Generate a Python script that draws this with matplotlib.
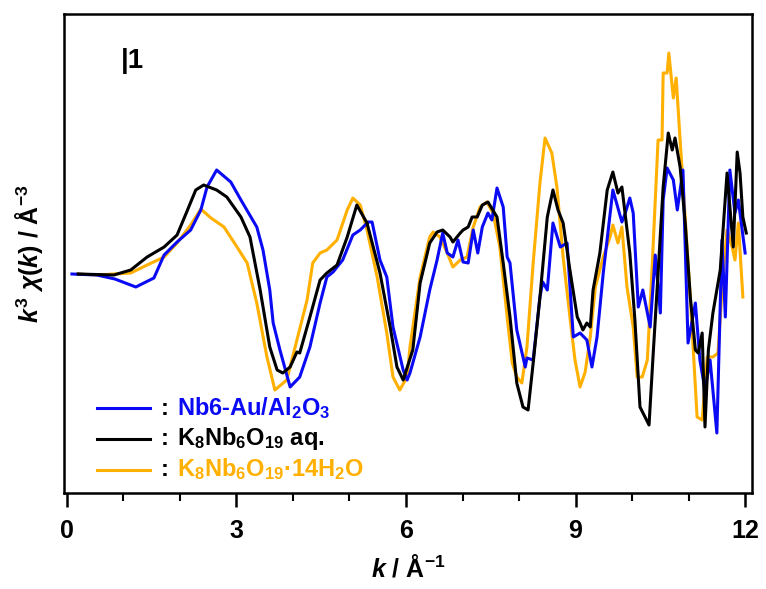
import matplotlib
matplotlib.use("Agg")
import matplotlib.pyplot as plt
from matplotlib.ticker import MultipleLocator
from matplotlib.offsetbox import (AnchoredOffsetbox, HPacker, VPacker,
                                  TextArea, DrawingArea)
from matplotlib.lines import Line2D

plt.rcParams['font.family'] = ['Liberation Sans', 'DejaVu Sans']
plt.rcParams['mathtext.fontset'] = 'custom'
plt.rcParams['mathtext.rm'] = 'Liberation Sans:bold'
plt.rcParams['mathtext.bf'] = 'Liberation Sans:bold'
plt.rcParams['mathtext.it'] = 'Liberation Sans:italic:bold'

# ---------------- data ----------------
k_blue = [0.09, 0.53, 0.85, 1.22, 1.54, 1.72, 1.95, 2.19, 2.37, 2.48, 2.65, 2.90, 3.08,
          3.36, 3.47, 3.59, 3.65, 3.77, 3.95, 4.12, 4.30, 4.48, 4.60, 4.71, 4.88, 5.06,
          5.19, 5.33, 5.40, 5.54, 5.66, 5.77, 5.95, 6.02, 6.07, 6.25, 6.42, 6.55, 6.65,
          6.73, 6.83, 6.92, 7.01, 7.10, 7.19, 7.27, 7.35, 7.45, 7.52, 7.61, 7.72, 7.79,
          7.84, 7.96, 8.11, 8.14, 8.25, 8.37, 8.42, 8.50, 8.60, 8.73, 8.85, 8.96, 9.08,
          9.20, 9.29, 9.38, 9.49, 9.66, 9.82, 9.88, 9.96, 10.02, 10.11, 10.19, 10.32,
          10.41, 10.50, 10.55, 10.62, 10.73, 10.80, 10.90, 10.99, 11.12, 11.20, 11.29,
          11.38, 11.50, 11.59, 11.65, 11.73, 11.82, 11.88, 12.00]
y_blue = [-0.01, -0.02, -0.06, -0.14, -0.05, 0.18, 0.31, 0.43, 0.63, 0.86, 1.03, 0.91, 0.73,
          0.46, 0.23, -0.17, -0.50, -0.77, -1.14, -1.04, -0.74, -0.30, -0.04, 0.01, 0.13, 0.38,
          0.43, 0.51, 0.51, 0.13, -0.04, -0.54, -0.97, -1.07, -1.00, -0.64, -0.17, 0.13, 0.40,
          0.20, 0.16, 0.33, 0.11, 0.10, 0.43, 0.20, 0.46, 0.60, 0.53, 0.85, 0.66, 0.16,
          0.10, -0.57, -0.94, -0.85, -0.87, -0.24, -0.09, -0.17, 0.50, 0.26, 0.30, -0.64, -0.60,
          -0.67, -0.94, -0.64, 0.00, 0.83, 0.51, 0.60, 0.75, 0.60, -0.34, -0.17, -0.54,
          0.18, -0.40, 0.73, 1.05, 0.93, 0.63, 1.03, -0.70, -0.30, -0.87, -1.17,
          -0.87, -1.60, 0.33, -0.44, 1.03, 0.60, 0.73, 0.20]

k_black = [0.20, 0.83, 1.13, 1.42, 1.72, 1.95, 2.12, 2.28, 2.42, 2.65, 2.83, 3.08, 3.24,
           3.42, 3.59, 3.72, 3.82, 3.95, 4.07, 4.12, 4.30, 4.48, 4.60, 4.78, 4.96, 5.13,
           5.31, 5.54, 5.72, 5.84, 5.95, 6.12, 6.25, 6.42, 6.55, 6.65, 6.78, 6.83, 6.96,
           7.01, 7.10, 7.17, 7.26, 7.35, 7.45, 7.61, 7.72, 7.84, 7.96, 8.07, 8.16, 8.25,
           8.37, 8.50, 8.60, 8.69, 8.78, 8.90, 9.03, 9.08, 9.13, 9.20, 9.26, 9.31, 9.43,
           9.56, 9.66, 9.75, 9.82, 9.96, 10.05, 10.14, 10.30, 10.37, 10.46, 10.55, 10.64,
           10.71, 10.76, 10.85, 10.94, 11.03, 11.12, 11.17, 11.24, 11.29, 11.35, 11.43,
           11.56, 11.68, 11.79, 11.86, 11.91, 11.96, 12.02]
y_black = [-0.01, -0.02, 0.03, 0.16, 0.26, 0.38, 0.61, 0.83, 0.88, 0.83, 0.76, 0.56, 0.36,
           -0.17, -0.74, -0.97, -1.00, -0.94, -0.79, -0.80, -0.44, -0.07, 0.00, 0.08, 0.36, 0.68,
           0.50, 0.00, -0.54, -0.94, -1.07, -0.77, -0.10, 0.30, 0.41, 0.43, 0.36, 0.31, 0.40,
           0.43, 0.46, 0.56, 0.56, 0.68, 0.71, 0.56, 0.10, -0.44, -1.10, -1.34, -1.37, -0.90,
           -0.24, 0.56, 0.83, 0.63, 0.50, 0.03, -0.44, -0.50, -0.57, -0.50, -0.54, -0.17, 0.20,
           0.83, 1.01, 0.80, 0.86, 0.20, -0.47, -1.34, -1.52, -0.84, 0.00, 0.86, 1.40,
           1.23, 1.35, 1.06, 0.50, -0.24, -0.77, -0.80, -0.60, -1.54, -0.77, -0.40,
           0.03, 1.00, 0.26, 1.21, 1.00, 0.56, 0.40]

k_orange = [0.20, 0.53, 1.13, 1.42, 1.72, 1.95, 2.19, 2.37, 2.55, 2.78, 3.01, 3.19, 3.36,
            3.54, 3.68, 3.89, 4.07, 4.25, 4.35, 4.48, 4.60, 4.78, 4.96, 5.06, 5.19, 5.31,
            5.49, 5.66, 5.77, 5.89, 6.02, 6.07, 6.25, 6.42, 6.48, 6.60, 6.73, 6.83, 6.96,
            7.08, 7.19, 7.31, 7.43, 7.54, 7.66, 7.79, 7.88, 7.96, 8.05, 8.14, 8.25, 8.37,
            8.46, 8.58, 8.67, 8.78, 8.90, 8.99, 9.08, 9.17, 9.26, 9.35, 9.49, 9.61, 9.66,
            9.75, 9.82, 9.91, 10.02, 10.09, 10.18, 10.27, 10.35, 10.46, 10.53, 10.55, 10.62,
            10.65, 10.73, 10.78, 10.85, 10.90, 11.03, 11.15, 11.24, 11.33, 11.43, 11.52,
            11.61, 11.68, 11.77, 11.82, 11.88, 11.96]
y_orange = [-0.01, -0.02, 0.00, 0.08, 0.16, 0.30, 0.48, 0.64, 0.55, 0.46, 0.26, 0.10, -0.30,
            -0.84, -1.17, -1.07, -0.67, -0.27, 0.10, 0.20, 0.23, 0.33, 0.63, 0.75, 0.68, 0.43,
            -0.04, -0.60, -1.04, -1.17, -1.04, -0.74, -0.04, 0.36, 0.41, 0.36, 0.20, 0.06, 0.13,
            0.16, 0.46, 0.66, 0.71, 0.60, 0.26, -0.44, -0.90, -1.04, -1.10, -0.74, 0.10, 0.90,
            1.35, 1.20, 0.86, 0.16, -0.44, -0.87, -1.14, -0.99, -0.64, -0.14, 0.16, 0.36, 0.48,
            0.30, 0.46, -0.14, -0.54, -1.04, -1.04, -0.87, 0.00, 1.33, 1.33, 2.00, 2.00,
            2.20, 1.75, 1.95, 1.33, 0.90, -0.24, -1.44, -1.47, -0.84, -0.84, -0.80,
            0.00, 0.43, 0.26, 0.13, 0.50, -0.24]

labels = ["Nb6-Au/Al$_{2}$O$_{3}$",
          "K$_{8}$Nb$_{6}$O$_{19}$ aq.",
          "K$_{8}$Nb$_{6}$O$_{19}$$\u00b7$14H$_{2}$O"]
colors = ["#0a0af5", "#000000", "#ffb000"]
xticks = [0, 3, 6, 9, 12]
panel_tag = "|1"

# ---------------- figure ----------------
fig = plt.figure(figsize=(7.66, 5.89), dpi=100)
ax = fig.add_axes([0.0836, 0.163, 0.898, 0.8132])

lw = 2.2
ax.plot(k_orange, y_orange, color=colors[2], lw=lw, zorder=2)
ax.plot(k_blue, y_blue, color=colors[0], lw=lw, zorder=3)
ax.plot(k_black, y_black, color=colors[1], lw=lw, zorder=4)

ax.set_xlim(-0.05, 12.12)
ax.set_ylim(-2.20, 2.59)

ax.set_xticks(xticks)
ax.xaxis.set_minor_locator(MultipleLocator(1))
ax.tick_params(axis='x', which='major', direction='out', length=10, width=1.8,
               labelsize=18, pad=9)
ax.tick_params(axis='x', which='minor', direction='out', length=6, width=1.5)
ax.set_yticks([])
for lab in ax.get_xticklabels():
    lab.set_fontweight('bold')
for sp in ax.spines.values():
    sp.set_linewidth(1.8)

ax.set_xlabel(r"$k$ / Å$^{-1}$", fontsize=18, fontweight='bold', labelpad=8)
ax.set_ylabel(r"$k^{3}$ $\chi(k)$ / Å$^{-3}$", fontsize=18, fontweight='bold',
              labelpad=14)

ax.text(0.083, 0.902, panel_tag, transform=ax.transAxes, fontsize=20,
        fontweight='bold', va='center', ha='left')

# ---------------- legend ----------------
rows = []
for lab, col in zip(labels, colors):
    da = DrawingArea(40, 16, 0, 0)
    da.add_artist(Line2D([0, 38], [8, 8], color=col, lw=lw))
    colon = TextArea(":", textprops=dict(color='black', fontsize=17,
                                         fontweight='bold'))
    txt = TextArea(lab, textprops=dict(color=col, fontsize=17, fontweight='bold'))
    rows.append(HPacker(children=[da, colon, txt], align='center', pad=0, sep=6))
box = VPacker(children=rows, align='left', pad=0, sep=3)
anch = AnchoredOffsetbox(loc='lower left', child=box, pad=0, frameon=False,
                         bbox_to_anchor=(0.048, 0.022), bbox_transform=ax.transAxes,
                         borderpad=0)
ax.add_artist(anch)

fig.savefig("out.png", dpi=100)
